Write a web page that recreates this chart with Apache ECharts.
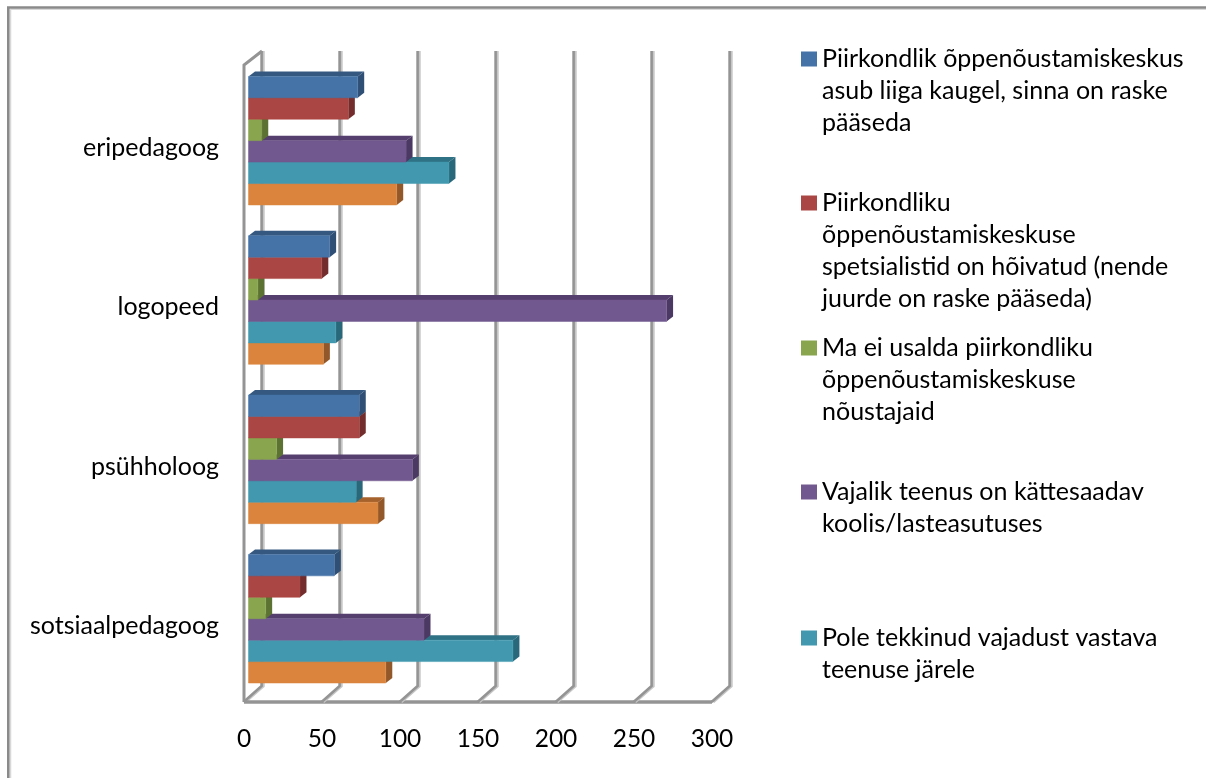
<!DOCTYPE html>
<html><head><meta charset="utf-8">
<style>html,body{margin:0;padding:0;background:#fff}#c{width:1206px;height:778px}</style>
<script src="https://cdn.jsdelivr.net/npm/echarts@6/dist/echarts.min.js"></script>
</head><body><div id="c"></div>
<script>
const categories = ['sotsiaalpedagoog','psühholoog','logopeed','eripedagoog'];
const ticks = [0,50,100,150,200,250,300];
const names = [
 'Piirkondlik õppenõustamiskeskus asub liiga kaugel, sinna on raske pääseda',
 'Piirkondliku õppenõustamiskeskuse spetsialistid on hõivatud (nende juurde on raske pääseda)',
 'Ma ei usalda piirkondliku õppenõustamiskeskuse nõustajaid',
 'Vajalik teenus on kättesaadav koolis/lasteasutuses',
 'Pole tekkinud vajadust vastava teenuse järele',
 'Muu'
];
const legendLines = [
 ['Piirkondlik õppenõustamiskeskus','asub liiga kaugel, sinna on raske','pääseda'],
 ['Piirkondliku','õppenõustamiskeskuse','spetsialistid on hõivatud (nende','juurde on raske pääseda)'],
 ['Ma ei usalda piirkondliku','õppenõustamiskeskuse','nõustajaid'],
 ['Vajalik teenus on kättesaadav','koolis/lasteasutuses'],
 ['Pole tekkinud vajadust vastava','teenuse järele']
];
const legendTops = [59,203,348,492,638];
// values listed bottom to top category: sotsiaalpedagoog, psühholoog, logopeed, eripedagoog
const seriesBlue   = [55,71,52,70];
const seriesRed    = [33,71,47,64];
const seriesGreen  = [11,18,6,8.5];
const seriesPurple = [112.5,105,268,101];
const seriesTeal   = [169.5,69,56,128.5];
const seriesOrange = [88,83,48,95];
const seriesValues = [seriesBlue,seriesRed,seriesGreen,seriesPurple,seriesTeal,seriesOrange];
const colors = ['#4573a7','#aa4643','#89a54e','#71588f','#4198af','#db843d'];
const topColors = ['#34587f','#813432','#68803a','#553f6e','#2f7286','#a6622c'];
const sideColors = ['#2f4f75','#722d2c','#5c7233','#4b3863','#29677a','#93582a'];

const FONT = 'Lato';
const dx = 18;                // depth of the walls
const bdx = 6.5, bdy = 5;     // depth of the bars
const LH = 32;
const FLOOR_Y = 702, WALL_TOP = 65, BACK_TOP = 51, BACK_FLOOR = 686;

const chart = echarts.init(document.getElementById('c'), null, {renderer:'canvas'});

function wallItem(params, api){
  const v = api.value(0);
  const x = api.coord([v, 0])[0];
  const pts = o => [[x+o,FLOOR_Y],[x+dx+o,BACK_FLOOR],[x+dx+o,BACK_TOP]];
  const light = {stroke:'#c6c6c6', lineWidth:3, fill:'none'};
  const dark = {stroke:'#949494', lineWidth:2.6, fill:'none'};
  const children = [
    {type:'polyline', shape:{points:pts(1.2)}, style:light},
    {type:'polyline', shape:{points:pts(-0.4)}, style:dark}
  ];
  if (v === 0) {
    children.push({type:'polyline', shape:{points:[[x,FLOOR_Y],[x,WALL_TOP],[x+dx,BACK_TOP]]},
      style:{stroke:'#949494', lineWidth:3, fill:'none'}});
    children.push({type:'line', shape:{x1:x,y1:FLOOR_Y,x2:x+dx*26,y2:FLOOR_Y},
      style:{stroke:'#949494', lineWidth:3.5}});
  }
  return {type:'group', children};
}

function barItem(idx){
  return function(params, api){
    const catIdx = api.value(1);
    const v = api.value(0);
    const c0 = api.coord([0, catIdx]);
    const c1 = api.coord([v, catIdx]);
    const band = api.size([0,1])[1];
    const h = band * 0.1345;
    const x0 = c0[0] + 4.5, x1 = c1[0] + 4.5;
    const y0 = c0[1] - 7.3 - 3*h + idx*h, y1 = y0 + h;
    const face = {type:'rect', shape:{x:x0,y:y0,width:x1-x0,height:h},
      style:{fill:colors[idx], stroke:colors[idx], lineWidth:0.5}};
    const top = {type:'polygon', shape:{points:[[x0,y0],[x0+bdx,y0-bdy],[x1+bdx,y0-bdy],[x1,y0]]},
      style:{fill:topColors[idx]}};
    const side = {type:'polygon', shape:{points:[[x1,y0],[x1+bdx,y0-bdy],[x1+bdx,y1-bdy],[x1,y1]]},
      style:{fill:sideColors[idx]}};
    return {type:'group', children:[top,side,face]};
  };
}

const series = [
  {type:'custom', name:'walls', silent:true, z:1, renderItem:wallItem,
   data:ticks.map(t=>[t]), encode:{x:0}, clip:false}
];
seriesValues.forEach((vals,i)=>{
  series.push({type:'custom', name:names[i], z:10-i, itemStyle:{color:colors[i]},
    renderItem:barItem(i), clip:false, encode:{x:0,y:1},
    data:vals.map((v,c)=>[v,c])});
});

const legends = legendLines.map((lines,i)=>{
  const n = lines.length;
  return {
    show:true, orient:'vertical', left:801, top:legendTops[i]-(2*n-1)*LH/2,
    data:[names[i]], itemWidth:16, itemHeight:15, itemGap:0, padding:0,
    selectedMode:false,
    icon:'rect',
    // leading blank lines keep the marker level with the first text line
    formatter:()=>new Array(n-1).fill('').concat(lines).join('\n'),
    textStyle:{fontFamily:FONT,fontSize:25,color:'#000',lineHeight:LH}
  };
});

chart.setOption({
  animation:false,
  backgroundColor:'#fff',
  grid:{left:244,right:494,top:68.3,bottom:72.3,containLabel:false},
  xAxis:{type:'value',min:0,max:300,interval:50,
    axisLine:{show:false},
    axisTick:{show:false},splitLine:{show:false},
    axisLabel:{fontFamily:FONT,fontSize:24.5,color:'#000',margin:21}},
  yAxis:{type:'category',data:categories,
    axisLine:{show:false},
    axisTick:{show:false},splitLine:{show:false},
    axisLabel:{fontFamily:FONT,fontSize:25,color:'#000',margin:25}},
  legend:legends,
  series,
  graphic:[
    {type:'line',shape:{x1:11,y1:9.3,x2:1206,y2:9.3},style:{stroke:'#d8d8d8',lineWidth:1.5},silent:true},
    {type:'line',shape:{x1:10.5,y1:9,x2:10.5,y2:778},style:{stroke:'#d8d8d8',lineWidth:1.5},silent:true},
    {type:'line',shape:{x1:7,y1:7.5,x2:1206,y2:7.5},style:{stroke:'#8a8a8a',lineWidth:2.5},silent:true},
    {type:'line',shape:{x1:8.3,y1:7,x2:8.3,y2:778},style:{stroke:'#8a8a8a',lineWidth:2.6},silent:true}
  ]
});
</script></body></html>
